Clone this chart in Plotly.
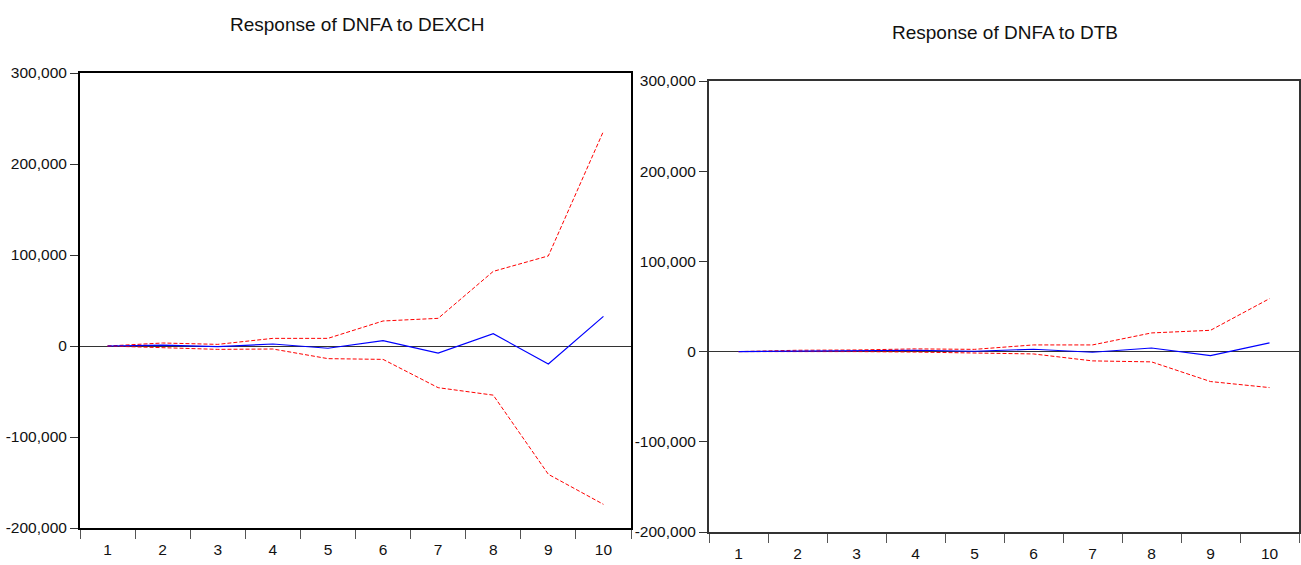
import plotly.graph_objects as go

# Impulse-response horizon
periods = [1, 2, 3, 4, 5, 6, 7, 8, 9, 10]
period_labels = [str(p) for p in periods]

# Response of DNFA to DEXCH: point estimate and +/- 2 S.E. bands
dexch_resp = [0, 1000, -700, 2200, -2500, 6000, -7700, 13500, -19800, 32600]
dexch_upper = [0, 3300, 1800, 8400, 8400, 27500, 30400, 82000, 99000, 236000]
dexch_lower = [0, -1500, -3700, -3300, -13900, -14700, -45800, -54000, -141000, -174000]

# Response of DNFA to DTB: point estimate and +/- 2 S.E. bands
dtb_resp = [0, 700, 1000, 1500, 400, 2600, -700, 4000, -4400, 9600]
dtb_upper = [0, 1500, 1800, 3000, 2500, 7400, 7400, 20700, 23600, 58700]
dtb_lower = [0, 300, 0, -500, -1800, -2600, -10300, -11400, -33200, -39900]

y_ticks = [-200000, -100000, 0, 100000, 200000, 300000]
y_tick_text = ["-200,000", "-100,000", "0", "100,000", "200,000", "300,000"]
titles = ["Response of DNFA to DEXCH", "Response of DNFA to DTB"]

FONT = "Liberation Sans, Arial, sans-serif"
W, H = 1301, 565

fig = go.Figure()

panels = [
    (dexch_resp, dexch_upper, dexch_lower, "x", "y"),
    (dtb_resp, dtb_upper, dtb_lower, "x2", "y2"),
]
for resp, up, lo, xa, ya in panels:
    fig.add_trace(go.Scatter(x=periods, y=up, mode="lines", xaxis=xa, yaxis=ya,
                             line=dict(color="#ff0000", width=1, dash="4px,2px"),
                             showlegend=False, hoverinfo="skip"))
    fig.add_trace(go.Scatter(x=periods, y=lo, mode="lines", xaxis=xa, yaxis=ya,
                             line=dict(color="#ff0000", width=1, dash="4px,2px"),
                             showlegend=False, hoverinfo="skip"))
    fig.add_trace(go.Scatter(x=periods, y=resp, mode="lines", xaxis=xa, yaxis=ya,
                             line=dict(color="#0000ff", width=1.2),
                             showlegend=False, hoverinfo="skip"))

# pixel boxes of the two plot areas (left, right, top, bottom)
boxes = [(80, 631, 73, 528, "#000000"), (709, 1299, 81, 532, "#333333")]
boundaries = [p + 0.5 for p in [0] + periods]

layout = dict(
    template="none",
    width=W, height=H, margin=dict(l=0, r=0, t=0, b=0, autoexpand=False),
    paper_bgcolor="white", plot_bgcolor="white",
    font=dict(family=FONT, size=16, color="#111111"),
    showlegend=False,
)
for i, (x0, x1, y0, y1, lc) in enumerate(boxes):
    sfx = "" if i == 0 else str(i + 1)
    layout["xaxis" + sfx] = dict(
        domain=[x0 / W, x1 / W], range=[0.5, 10.5], automargin=False,
        anchor="y" + sfx, tickmode="array", tickvals=periods, ticktext=period_labels,
        ticks="", ticklabelstandoff=6,
        minor=dict(tickmode="array", tickvals=boundaries, ticks="outside",
                   ticklen=9, tickcolor="#555555", tickwidth=1, showgrid=False),
        showgrid=False, zeroline=False,
        showline=True, linecolor=lc, linewidth=2, mirror=True,
        tickfont=dict(family=FONT, size=15.5, color="#111111"),
    )
    layout["yaxis" + sfx] = dict(
        domain=[(H - y1) / H, (H - y0) / H], range=[-200000, 300000], automargin=False,
        anchor="x" + sfx, tickmode="array", tickvals=y_ticks, ticktext=y_tick_text,
        ticks="outside", ticklen=8, tickcolor="#333333", tickwidth=1,
        showgrid=False, zeroline=True, zerolinecolor="#333333", zerolinewidth=1,
        showline=True, linecolor=lc, linewidth=2, mirror=True,
        tickfont=dict(family=FONT, size=15.5, color="#111111"),
    )

fig.update_layout(**layout)

fig.add_annotation(text=titles[0], x=357 / W, y=1 - 25 / H, xref="paper", yref="paper",
                   showarrow=False, xanchor="center", yanchor="middle",
                   font=dict(family=FONT, size=19, color="#111111"))
fig.add_annotation(text=titles[1], x=1005 / W, y=1 - 33 / H, xref="paper", yref="paper",
                   showarrow=False, xanchor="center", yanchor="middle",
                   font=dict(family=FONT, size=19, color="#111111"))

fig.write_html("out.html")
